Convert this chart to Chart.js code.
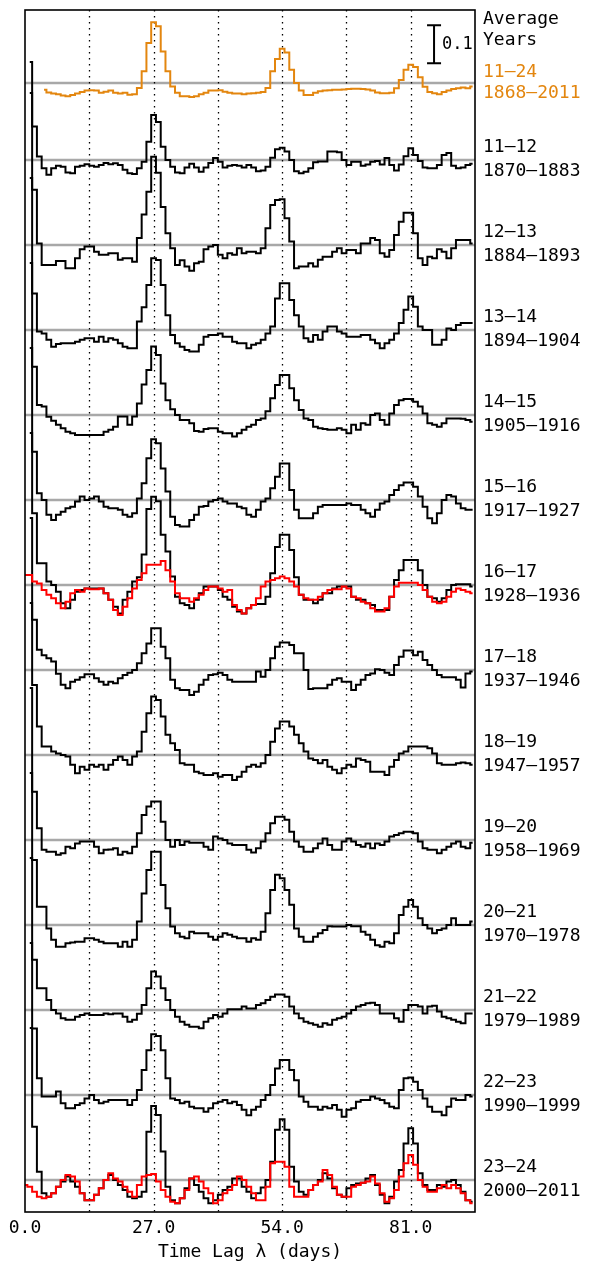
<!DOCTYPE html>
<html>
<head>
<meta charset="utf-8">
<script src="https://cdn.jsdelivr.net/npm/chart.js@4.4.1/dist/chart.umd.min.js"></script>
<style>
  html, body { margin: 0; padding: 0; background: #fff; }
  canvas { display: block; }
</style>
</head>
<body>
<canvas id="acfChart" width="591" height="1267"></canvas>
<script>
// autocorrelation vs time lag, one value per day of lag (index = lag 0..94)
// values are in units of 0.01 (correlation x 100), relative to each row's grey zero line
const xTicks = [0, 27, 54, 81];
const guideLags = [13.5, 27, 40.5, 54, 67.5, 81];

const acfAverage = [null, null, null, null, -1.8, -2.5, -2.8, -3.0, -3.3, -3.5,
  -3.2, -2.8, -2.4, -2.0, -1.9, -2.0, -2.6, -2.3, -2.0, -2.6,
  -2.8, -2.6, -3.1, -3.0, -1.3, 3.1, 10.5, 16.0, 14.9, 8.3,
  3.1, -0.9, -2.6, -3.5, -3.5, -3.7, -3.5, -3.0, -2.6, -2.0,
  -2.0, -1.9, -2.3, -2.6, -2.8, -2.8, -3.0, -2.8, -2.7, -2.6,
  -2.4, -1.3, 3.1, 6.3, 9.0, 8.0, 3.5, 0, -2.0, -3.2,
  -3.2, -2.6, -2.2, -2.0, -1.9, -1.8, -1.8, -1.7, -1.6, -1.5,
  -1.5, -1.6, -1.7, -2.0, -2.5, -2.7, -2.7, -2.6, -1.4, 0.8,
  3.5, 4.8, 4.2, 1.5, -1.0, -2.4, -2.7, -3.0, -2.4, -2.0,
  -1.6, -1.4, -1.2, -1.4, -0.9];

const acf11_12 = [null, 25.8, 8.8, 0.9, -2.2, -3.9, -2.2, -1.5, -1.8, -3.3,
  -3.5, -1.8, -1.5, -1.1, -1.5, -1.8, -1.3, -0.8, -1.1, -0.9,
  -1.3, -2.6, -3.5, -3.7, -2.2, -0.5, 4.8, 11.8, 10.0, 3.5,
  0, -1.8, -3.3, -3.5, -2.0, -1.0, -2.0, -3.1, -2.0, -0.8,
  0.5, -0.5, -2.0, -1.5, -1.3, -1.5, -2.0, -1.3, -2.0, -3.0,
  -2.8, -1.8, 0.6, 2.8, 3.2, 2.2, 0, -3.0, -3.5, -3.1,
  -2.2, -0.6, -0.4, -0.4, 2.2, 2.2, 2.0, 0, -1.3, -0.5,
  -0.5, -1.5, -1.2, -0.5, -0.3, -1.2, 0.5, -1.3, -2.8, -1.2,
  1.0, 3.1, 1.3, -0.3, -2.0, -2.2, -2.2, -1.3, 1.3, 1.8,
  -1.5, -2.2, -2.0, -1.3, -1.0];

const acf12_13 = [null, 40, 14.5, 0.4, -5.3, -5.3, -5.3, -4.2, -4.2, -6.1,
  -6.1, -3.5, -1.1, -0.4, -0.4, -1.8, -2.6, -2.6, -2.2, -2.2,
  -3.9, -3.5, -3.5, -4.4, 1.8, 8.0, 14.0, 23.2, 19.0, 10.0,
  3.1, -0.9, -5.3, -4.0, -5.7, -6.8, -4.8, -4.4, -1.1, -0.4,
  0, -2.6, -3.5, -2.2, -2.6, -0.9, -2.2, -1.8, -1.8, -2.2,
  -0.9, 4.4, 10.5, 11.8, 12.0, 7.0, 0.9, -6.1, -5.7, -5.7,
  -4.8, -5.7, -3.9, -3.1, -3.1, -1.8, -0.9, -2.2, -1.3, -1.3,
  -2.2, 0.4, 0.4, 1.8, 1.3, -2.2, -3.1, -1.3, 2.6, 6.1,
  8.5, 8.5, 3.1, -3.5, -5.3, -3.1, -3.5, -1.1, -1.8, -3.5,
  -0.9, 1.3, 1.3, 1.3, 0.4];

const acf13_14 = [null, 40, 9.6, -0.4, -0.9, -2.6, -4.4, -3.7, -3.5, -3.5,
  -3.5, -3.1, -2.6, -2.2, -2.2, -3.1, -1.8, -3.1, -2.2, -2.6,
  -3.5, -4.4, -4.8, -4.8, 2.2, 6.0, 11.8, 18.9, 18.4, 11.8,
  3.9, -1.3, -3.5, -4.4, -5.3, -5.7, -5.7, -3.9, -1.8, -1.3,
  -1.3, -0.9, -1.8, -1.8, -3.1, -3.5, -3.5, -4.8, -3.9, -3.5,
  -2.6, -0.9, 0.9, 8.3, 12.3, 12.3, 7.9, 3.9, 0.9, -2.2,
  -3.1, -1.3, -2.6, -0.4, 0.9, 0.9, -0.4, -0.9, -1.8, -1.8,
  -1.8, -1.3, -1.3, -2.6, -3.5, -4.8, -3.5, -2.6, -0.9, 1.8,
  5.3, 8.8, 6.1, 0.9, 0, 0, -3.9, -3.9, -2.6, 0.4,
  0, 1.3, 1.8, 1.8, 1.8];

const acf14_15 = [null, 40, 12.7, 2.6, 2.2, -0.5, -1.5, -2.6, -3.5, -4.4,
  -4.8, -5.3, -5.3, -5.3, -5.3, -5.3, -5.3, -4.4, -3.9, -3.1,
  -0.4, -0.4, -2.6, -0.4, 3.0, 8.0, 11.8, 18.0, 15.8, 8.3,
  3.9, 1.5, 0, -1.3, -1.3, -2.2, -4.2, -4.4, -3.7, -3.5,
  -3.5, -4.4, -4.8, -4.8, -5.7, -4.8, -3.9, -3.1, -2.6, -1.3,
  -0.9, 1.0, 4.4, 7.9, 10.5, 10.5, 7.0, 3.9, 1.3, -0.9,
  -1.3, -3.1, -3.5, -3.7, -3.9, -3.9, -3.5, -3.9, -4.8, -2.6,
  -3.9, -2.2, -2.6, 0, 0.4, -1.3, -2.6, 0.4, 2.6, 3.9,
  4.2, 4.2, 3.5, 2.2, 0.4, -2.2, -2.6, -3.1, -2.2, -0.9,
  -0.9, -0.9, -1.0, -1.3, -1.8];

const acf15_16 = [null, 40, 12.7, 1.8, 0, -3.9, -5.3, -3.9, -3.1, -2.2,
  -1.8, -0.4, 0.9, 0, 0.4, 0.9, -0.4, -1.8, -2.2, -2.2,
  -2.6, -3.9, -4.4, -3.5, 0.4, 4.4, 11.0, 16.0, 14.9, 8.3,
  2.2, -4.4, -6.6, -7.0, -7.0, -5.3, -3.9, -1.8, -1.6, -0.4,
  0, 0.4, -0.4, -0.9, -0.9, -1.8, -2.2, -3.9, -4.4, -2.6,
  -0.4, 0.4, 3.1, 6.1, 9.6, 9.6, 2.6, -2.6, -4.8, -4.8,
  -4.8, -3.5, -1.8, -1.3, -1.3, -1.3, -1.3, -1.3, -0.9, -1.3,
  -1.3, -2.6, -3.5, -4.4, -2.6, -0.9, -0.4, 1.3, 2.6, 3.9,
  4.6, 4.6, 3.5, 0.9, -1.8, -4.8, -6.1, -3.5, 0, 1.3,
  0.9, -0.9, -2.2, -2.6, -2.6];

const acf16_17 = [null, 40, 18.9, 5.7, 5.7, 0.9, 0, -1.8, -4.8, -6.1,
  -3.9, -1.8, -1.3, -0.9, -0.9, -0.9, -0.9, -2.2, -3.9, -5.7,
  -7.5, -3.9, -1.8, 0.9, 2.0, 8.0, 20.0, 23.2, 22.0, 13.2,
  8.8, 2.2, -3.1, -4.8, -5.3, -6.1, -3.9, -2.2, -0.4, -0.4,
  -0.4, -1.3, -3.1, -3.9, -5.7, -7.0, -7.5, -6.1, -5.3, -5.0,
  -5.0, -3.1, 3.1, 10.0, 13.2, 13.2, 9.2, 2.0, -2.6, -3.9,
  -3.9, -4.8, -3.9, -2.2, -2.2, -0.9, -0.4, -0.4, -0.4, -3.1,
  -3.9, -3.9, -4.8, -5.3, -6.6, -6.6, -6.6, -3.1, 1.3, 3.9,
  6.6, 6.6, 6.6, 3.9, 0, -3.1, -3.5, -4.4, -3.5, -1.3,
  0, 0.2, 0.2, 0.2, -0.4];

const acf17_18 = [null, 40, 13.2, 5.3, 3.9, 3.1, 2.2, -1.0, -3.9, -4.8,
  -3.1, -2.6, -1.9, -1.1, -1.1, -2.2, -3.1, -3.9, -3.1, -3.5,
  -2.2, -1.3, -0.7, 0, 1.8, 4.4, 7.0, 11.0, 11.0, 6.1,
  3.1, -2.6, -4.8, -5.3, -5.3, -6.6, -5.7, -3.9, -2.6, -1.3,
  -1.1, -0.7, -1.3, -2.6, -3.1, -3.1, -3.1, -3.1, -3.1, -0.4,
  -1.8, 0, 3.1, 6.1, 7.2, 7.2, 6.6, 4.4, 4.4, 0,
  -5.0, -4.8, -4.8, -4.8, -3.9, -2.6, -2.2, -3.1, -3.1, -5.3,
  -3.9, -2.6, -1.3, -0.9, 0.2, 0, -0.7, -1.3, 1.3, 3.5,
  5.1, 5.1, 3.9, 4.8, 2.6, 1.3, 0, -1.3, -1.9, -1.9,
  -1.9, -2.6, -4.6, -0.9, -0.4];

const acf18_19 = [null, 40, 18.4, 7.5, 2.2, 2.2, 0.9, 0.4, 0, -0.4,
  -2.6, -4.8, -3.1, -3.9, -2.6, -3.1, -2.6, -3.9, -2.6, -1.3,
  -0.4, -1.3, -2.6, -0.4, 0.9, 6.1, 11.0, 15.4, 14.5, 10.1,
  5.3, 3.1, 1.3, -2.2, -2.6, -2.6, -4.4, -4.8, -5.3, -5.3,
  -4.8, -5.7, -5.3, -5.3, -6.6, -5.7, -4.4, -3.1, -2.6, -3.1,
  -2.2, 0, 3.5, 7.0, 8.8, 8.8, 7.5, 5.3, 3.1, 0.9,
  -0.9, -1.3, -2.2, -1.3, -3.1, -3.9, -4.8, -3.5, -2.6, -3.1,
  -0.9, -1.3, -1.8, -4.4, -4.4, -4.4, -5.3, -3.1, -1.3, 0.4,
  0.9, 2.2, 2.2, 2.2, 2.2, 1.8, 0.4, -2.2, -2.6, -2.6,
  -2.6, -2.2, -2.0, -2.2, -2.6];

const acf19_20 = [null, 40, 12.7, 3.1, -2.6, -3.1, -3.1, -3.9, -3.5, -1.8,
  -2.2, -0.9, -0.4, -0.4, -0.4, -1.8, -3.5, -2.6, -2.5, -2.2,
  -3.9, -3.1, -3.5, -1.8, 1.8, 6.6, 8.8, 10.1, 10.1, 4.8,
  0, -1.8, 0, -1.3, -0.4, -0.7, -0.7, -0.7, -1.8, -2.6,
  0.9, 0.4, 0, -0.9, -1.3, -1.3, -1.3, -2.6, -3.3, -2.2,
  -0.4, 1.8, 4.4, 6.1, 6.1, 5.3, 2.2, -0.4, -1.8, -3.1,
  -3.1, -2.2, -0.9, 0.4, -1.3, -2.6, -2.6, -0.4, 0.4, -0.4,
  -1.3, -1.8, -0.9, -2.2, -0.9, -1.3, -0.4, 0.9, 1.3, 1.8,
  2.2, 2.2, 1.8, -0.4, -2.2, -2.6, -2.6, -3.5, -2.6, -1.8,
  -0.9, -0.4, -1.8, -2.2, -0.7];

const acf20_21 = [null, 40, 17.1, 4.8, 4.8, -0.9, -3.9, -5.7, -5.7, -4.8,
  -4.6, -4.4, -4.4, -3.5, -3.5, -3.9, -4.4, -4.8, -4.8, -4.8,
  -5.7, -4.4, -5.7, -3.9, 0.9, 8.3, 14.5, 19.3, 19.3, 10.5,
  4.4, -0.4, -2.2, -3.1, -3.5, -1.8, -2.2, -2.2, -2.2, -3.1,
  -3.9, -3.1, -2.2, -2.6, -3.1, -3.5, -3.5, -4.4, -3.5, -3.9,
  -1.8, 3.1, 9.2, 13.2, 12.3, 9.2, 5.3, -0.9, -3.1, -4.4,
  -4.4, -3.1, -2.2, -1.3, -0.3, -0.4, -0.4, -0.4, 0, -0.3,
  -0.3, -1.8, -2.6, -3.9, -5.3, -5.7, -4.4, -4.8, -2.2, 2.6,
  4.8, 6.6, 4.8, 1.8, 0, -0.9, -2.2, -1.3, -0.9, 0,
  1.8, 0, 0, 0, 0.9];

const acf21_22 = [null, 40, 13.2, 5.7, 5.7, 2.6, 0, -0.9, -2.2, -2.6,
  -2.6, -1.8, -1.3, -0.9, -1.3, -1.3, -1.3, -0.9, -1.1, -0.9,
  -0.9, -1.8, -3.1, -2.6, -1.0, 1.3, 5.7, 10.1, 8.8, 5.7,
  2.6, 0, -1.8, -3.1, -3.9, -4.4, -4.4, -4.8, -3.1, -2.2,
  -1.3, -1.8, -0.9, 0.2, 0.2, 0.2, 0.9, 0.4, 0.4, 1.3,
  1.8, 2.6, 3.5, 4.1, 4.1, 3.5, 0.9, -0.9, -2.2, -3.1,
  -3.5, -3.9, -4.4, -3.5, -3.9, -2.6, -2.2, -1.8, -0.9, 0,
  0.9, 1.3, 1.8, 1.9, 1.3, -0.9, -0.9, -0.9, -2.2, -3.1,
  0, 1.3, 1.3, 0.9, -0.9, 0.9, 1.1, -0.4, -1.8, -2.2,
  -2.6, -3.1, -3.5, -0.9, -0.9];

const acf22_23 = [null, 40, 17.5, 4.4, -0.4, -0.4, -0.4, 0.9, -2.2, -3.5,
  -3.5, -2.6, -2.2, -0.9, 0, -1.3, -2.2, -1.8, -1.3, -1.3,
  -1.3, -1.3, -2.6, -1.3, 1.3, 6.6, 11.8, 16.0, 15.5, 11.8,
  4.4, -0.9, -1.3, -2.2, -1.8, -3.1, -3.5, -3.5, -4.4, -3.5,
  -2.2, -1.8, -1.3, -2.2, -1.8, -2.6, -3.9, -5.3, -3.9, -3.1,
  -1.3, 0, 2.6, 7.0, 9.2, 9.2, 6.6, 3.9, -0.4, -1.8,
  -3.1, -3.1, -3.9, -3.1, -3.5, -2.6, -3.9, -5.7, -3.9, -3.5,
  -1.8, -1.3, -1.3, -0.4, -0.9, -1.3, -2.2, -3.1, -3.5, 1.3,
  4.4, 4.6, 3.5, 1.3, -0.9, -3.1, -4.4, -4.4, -5.3, -3.1,
  -0.9, -1.3, -1.3, 0, -0.4];

const acf23_24 = [null, 40, 14.0, 2.2, -3.5, -4.4, -3.5, -1.8, -0.4, 0.9,
  -0.4, -1.8, -3.5, -5.3, -5.3, -3.9, -2.2, 0, 1.3, 0,
  -1.3, -2.6, -4.4, -4.8, -4.4, -3.1, 12.7, 19.5, 17.1, 7.5,
  -1.8, -5.3, -6.1, -4.8, -2.2, 0.4, -1.3, -3.1, -4.8, -6.1,
  -5.3, -3.9, -2.6, -1.8, 0.4, 0.4, -1.8, -3.1, -4.8, -3.5,
  -2.0, 0, 4.8, 13.2, 16.0, 13.2, 3.5, -0.4, -3.1, -3.9,
  -2.6, -1.3, 0, 1.8, 0.4, -2.2, -3.9, -4.4, -2.2, -1.3,
  -0.9, -0.7, 0.4, 1.3, -1.3, -3.9, -6.1, -4.4, -0.4, 2.6,
  9.6, 13.6, 9.6, 1.8, -1.3, -2.6, -2.6, -1.3, -1.8, -0.4,
  0, -1.3, -3.1, -5.3, -5.7];

// red curves drawn over cycles 16-17 and 23-24
const red16_17 = [2.6, 2.6, 0.9, 0.4, -1.3, -2.6, -3.5, -4.8, -6.1, -4.4,
  -2.2, -1.3, -1.8, -0.9, -1.1, -1.1, -0.9, -2.2, -3.9, -6.6,
  -7.9, -5.7, -3.5, -0.9, 1.3, 3.1, 5.3, 5.3, 5.3, 6.3,
  3.9, 0.9, -2.2, -3.5, -3.5, -4.4, -3.5, -2.6, -1.3, -0.4,
  -0.4, -0.9, -1.8, -1.3, -5.3, -6.6, -7.5, -6.1, -5.3, -3.5,
  -0.4, 0.9, 1.3, 1.8, 2.2, 1.8, 0.9, -0.4, -2.6, -3.5,
  -3.9, -3.9, -3.1, -2.2, -1.3, -1.1, -1.1, -0.4, -0.9, -3.1,
  -3.5, -4.4, -4.8, -6.1, -7.0, -7.0, -6.1, -3.1, -0.4, 0.6,
  0.6, 0.6, 0.6, 0, -1.3, -3.1, -4.4, -4.8, -4.4, -3.1,
  -1.8, -0.9, -1.3, -1.8, -2.2];

const red23_24 = [-1.3, -1.8, -3.1, -4.4, -4.8, -4.4, -3.5, -1.8, 0, 1.3,
  0.9, -0.4, -3.5, -5.3, -5.3, -3.9, -2.2, 0, 1.8, 0.4,
  -0.4, -1.8, -3.1, -4.4, -1.3, 0.9, 1.3, 1.6, -0.4, -2.6,
  -4.4, -5.7, -6.1, -4.8, -2.6, 0.4, 0.9, -0.4, -2.2, -3.5,
  -6.1, -5.3, -3.5, -2.6, -1.3, 0.9, 0, -1.8, -3.5, -5.3,
  -5.3, -1.8, 4.4, 4.8, 4.8, 3.5, -1.8, -4.4, -4.4, -4.4,
  -2.6, -1.3, -0.4, 2.6, 1.3, -1.8, -3.9, -4.4, -4.4, -1.8,
  -1.3, -0.7, -0.4, 0.9, -0.9, -3.5, -5.7, -4.8, -2.6, 0.9,
  4.4, 6.6, 4.0, 0, -1.8, -3.1, -3.1, -2.2, -1.3, -2.2,
  -1.3, -2.2, -3.5, -5.3, -6.1];

const cycleNames = ['11\u201312', '12\u201313', '13\u201314', '14\u201315', '15\u201316', '16\u201317', '17\u201318',
  '18\u201319', '19\u201320', '20\u201321', '21\u201322', '22\u201323', '23\u201324'];
const cycleYears = ['1870\u20131883', '1884\u20131893', '1894\u20131904', '1905\u20131916', '1917\u20131927',
  '1928\u20131936', '1937\u20131946', '1947\u20131957', '1958\u20131969', '1970\u20131978',
  '1979\u20131989', '1990\u20131999', '2000\u20132011'];
const cycleSeries = [acf11_12, acf12_13, acf13_14, acf14_15, acf15_16, acf16_17, acf17_18,
  acf18_19, acf19_20, acf20_21, acf21_22, acf22_23, acf23_24];

// layout of the stack (in the same 0.01 units)
const rowStep = 22.37;
const avgOffset = 288.7;
const ORANGE = '#e3860f';
const FONT = "'DejaVu Sans Mono', monospace";

function rowOffset(k) { return (cycleSeries.length - 1 - k) * rowStep; }

function toPoints(arr, off) {
  return arr.map((v, i) => ({ x: i, y: v === null ? null : off + v }));
}

const datasets = [];
datasets.push({ data: toPoints(red16_17, rowOffset(5)), borderColor: '#ff0000', order: 0 });
datasets.push({ data: toPoints(red23_24, rowOffset(12)), borderColor: '#ff0000', order: 0 });
datasets.push({ data: toPoints(acfAverage, avgOffset), borderColor: ORANGE, order: 1 });
cycleSeries.forEach((arr, k) => {
  datasets.push({ data: toPoints(arr, rowOffset(k)), borderColor: '#000000', order: 2 });
});
datasets.forEach(d => {
  d.borderWidth = 2;
  d.pointRadius = 0;
  d.stepped = 'middle';
  d.fill = false;
});

const stackDecor = {
  id: 'stackDecor',
  beforeDatasetsDraw(chart) {
    const { ctx, chartArea: a, scales: { x, y } } = chart;
    ctx.save();
    // grey zero lines
    ctx.strokeStyle = '#a8a8a8';
    ctx.lineWidth = 2.5;
    const offs = [avgOffset].concat(cycleSeries.map((s, k) => rowOffset(k)));
    offs.forEach(o => {
      const py = y.getPixelForValue(o);
      ctx.beginPath();
      ctx.moveTo(a.left, py);
      ctx.lineTo(a.right, py);
      ctx.stroke();
    });
    // dotted guides every half rotation
    ctx.strokeStyle = '#000';
    ctx.lineWidth = 1.3;
    ctx.setLineDash([1.5, 4.5]);
    guideLags.forEach(l => {
      const px = Math.round(x.getPixelForValue(l)) + 0.5;
      ctx.beginPath();
      ctx.moveTo(px, a.top);
      ctx.lineTo(px, a.bottom);
      ctx.stroke();
    });
    ctx.restore();
  },
  afterDraw(chart) {
    const { ctx, chartArea: a, scales: { x, y } } = chart;
    ctx.save();
    // frame
    ctx.strokeStyle = '#000';
    ctx.lineWidth = 1.6;
    ctx.strokeRect(a.left, a.top, a.right - a.left, a.bottom - a.top);
    // 0.1 scale bar
    const bx = x.getPixelForValue(85.9);
    const b0 = y.getPixelForValue(293.9), b1 = y.getPixelForValue(303.9);
    ctx.lineWidth = 2;
    ctx.beginPath();
    ctx.moveTo(bx, b0); ctx.lineTo(bx, b1);
    ctx.moveTo(bx - 7, b0); ctx.lineTo(bx + 7, b0);
    ctx.moveTo(bx - 7, b1); ctx.lineTo(bx + 7, b1);
    ctx.stroke();
    ctx.font = '17px ' + FONT;
    ctx.fillStyle = '#000';
    ctx.textBaseline = 'middle';
    ctx.fillText('0.1', bx + 8, (b0 + b1) / 2);
    // right-hand labels
    ctx.font = '18px ' + FONT;
    const lx = a.right + 8;
    ctx.fillText('Average', lx, a.top + 9);
    ctx.fillText('Years', lx, a.top + 30);
    const ay = y.getPixelForValue(avgOffset);
    ctx.fillStyle = ORANGE;
    ctx.fillText('11\u201324', lx, ay - 11);
    ctx.fillText('1868\u20132011', lx, ay + 10);
    ctx.fillStyle = '#000';
    cycleNames.forEach((n, k) => {
      const py = y.getPixelForValue(rowOffset(k));
      ctx.fillText(n, lx, py - 13);
      ctx.fillText(cycleYears[k], lx, py + 11);
    });
    ctx.restore();
  }
};

new Chart(document.getElementById('acfChart'), {
  type: 'line',
  data: { datasets: datasets },
  options: {
    responsive: false,
    animation: false,
    devicePixelRatio: 1,
    spanGaps: false,
    layout: { padding: { left: 25, right: 116, top: 10, bottom: 0 } },
    plugins: { legend: { display: false }, tooltip: { enabled: false } },
    scales: {
      x: {
        type: 'linear',
        min: 0,
        max: 94.5,
        grid: { display: false, drawTicks: false },
        border: { display: false },
        afterBuildTicks: (axis) => { axis.ticks = xTicks.map(v => ({ value: v })); },
        afterFit: (axis) => { axis.height = 55; },
        ticks: {
          color: '#000',
          padding: 6,
          maxRotation: 0,
          font: { family: FONT, size: 18 },
          callback: (v) => Number(v).toFixed(1)
        },
        title: {
          display: true,
          text: 'Time Lag \u03bb (days)',
          color: '#000',
          font: { family: FONT, size: 18 },
          padding: { top: 0, bottom: 4 }
        }
      },
      y: { display: false, min: -8.42, max: 307.9 }
    }
  },
  plugins: [stackDecor]
});
</script>
</body>
</html>
